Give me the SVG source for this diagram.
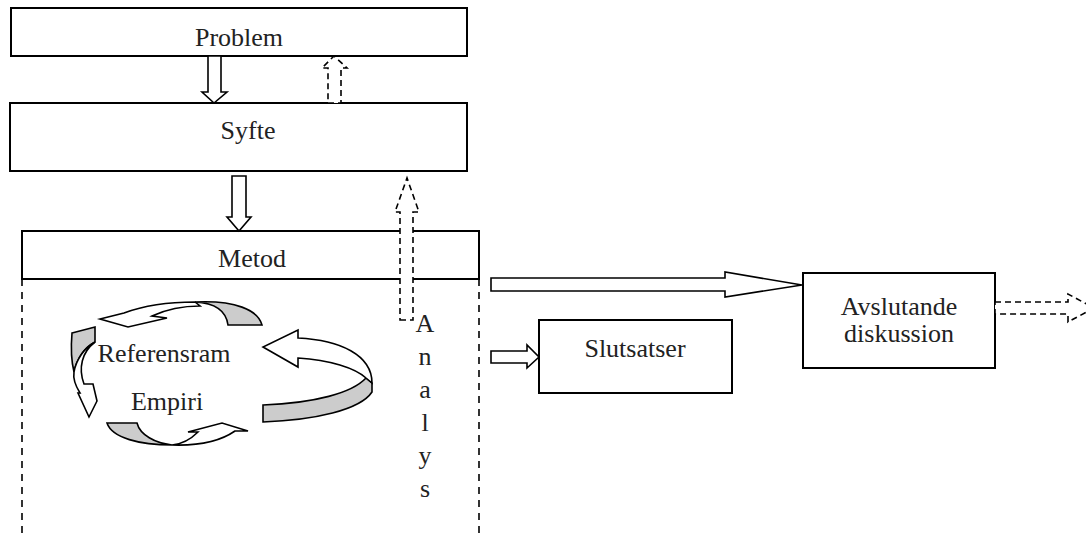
<svg xmlns="http://www.w3.org/2000/svg" width="1086" height="535" viewBox="0 0 1086 535">
<style>
.box{fill:#fff;stroke:#000;stroke-width:2}
.arr{fill:#fff;stroke:#000;stroke-width:1.6;stroke-linejoin:miter}
.darr{fill:#fff;stroke:#000;stroke-width:1.6;stroke-dasharray:6,4}
.dl{fill:none;stroke:#000;stroke-width:1.6;stroke-dasharray:7,6}
.sh{fill:#cccccc;stroke:#000;stroke-width:1.6}
.t{font-family:"Liberation Serif",serif;font-size:26px;fill:#222;text-anchor:middle}
</style>
<rect width="1086" height="535" fill="#fff"/>
<g id="problem"><rect class="box" x="11" y="8" width="456" height="48"/><text class="t" x="239" y="46">Problem</text></g>
<g id="syfte"><rect class="box" x="10" y="103" width="457" height="68"/><text class="t" x="248" y="139">Syfte</text></g>
<g id="metod"><rect class="box" x="22" y="231" width="457" height="48"/><text class="t" x="252" y="267">Metod</text></g>
<g id="slutsatser"><rect class="box" x="539" y="320" width="193" height="73"/><text class="t" x="635" y="357">Slutsatser</text></g>
<g id="avslutande"><rect class="box" x="803" y="273" width="192" height="95"/><text class="t" x="899" y="315">Avslutande</text><text class="t" x="899" y="342">diskussion</text></g>
<g id="cycle">
<path class="sh" d="M228,325 C226,310 215,303 195,302 C235,300 258,310 262,325 Z"/>
<path class="arr" d="M195,302 C165,302 140,307 124,313 L100,319 L128,327 L167,318 L152,316 C165,310 180,306 200,306 Z"/>
<path class="sh" d="M72,333 L95,327 L95,342 C84,348 77,358 74,372 C71,360 71,345 72,333 Z"/>
<path class="arr" d="M74,372 C76,360 85,347 95,342 C82,352 78,368 84,384 L93,384 L97,401 L89,417 L78,393 L80,393 C75,385 73,378 74,372 Z"/>
<path class="sh" d="M107,423 L137,423 C140,435 155,443 172,445 C140,445 112,438 107,423 Z"/>
<path class="arr" d="M172,445 C200,446 222,440 235,431 L248,431 L222,423 L188,432 L198,432 C190,440 183,444 172,445 Z"/>
<path class="sh" d="M263,405 C315,403 352,393 366,378 L372,383 L372,392 C360,410 315,420 263,422 Z"/>
<path class="arr" d="M366,378 C355,368 330,360 298,358 L298,367 L263,347 L298,330 L298,338 C340,340 372,355 372,383 Z"/>
<text class="t" x="164" y="362">Referensram</text>
<text class="t" x="167" y="410">Empiri</text>
</g>
<g id="analys-label">
<text class="t" x="425" y="332">A</text>
<text class="t" x="425" y="365">n</text>
<text class="t" x="425" y="398">a</text>
<text class="t" x="425" y="431">l</text>
<text class="t" x="425" y="464">y</text>
<text class="t" x="425" y="497">s</text>
</g>
<g id="connectors">
<polygon class="arr" points="208,56 221,56 221,92 227,92 214,103 202,92 208,92"/>
<polygon class="darr" points="328,103 341,103 341,68 347,68 334,56 322,68 328,68"/>
<polygon class="arr" points="232,176 246,176 246,217 251,217 239,231 227,217 232,217"/>
<polygon class="darr" points="400,320 413,320 413,212 419,212 407,178 395,212 400,212"/>
<line class="dl" x1="22" y1="279" x2="22" y2="535"/>
<line class="dl" x1="479" y1="279" x2="479" y2="535"/>
<polygon class="arr" points="491,278 725,278 725,272 802,285 725,297 725,291 491,291"/>
<polygon class="arr" points="491,351 527,351 527,345 539,357 527,368 527,363 491,363"/>
<polygon class="darr" points="995,302 1068,302 1068,294 1094,308 1068,322 1068,314 995,314"/>
</g>
</svg>
